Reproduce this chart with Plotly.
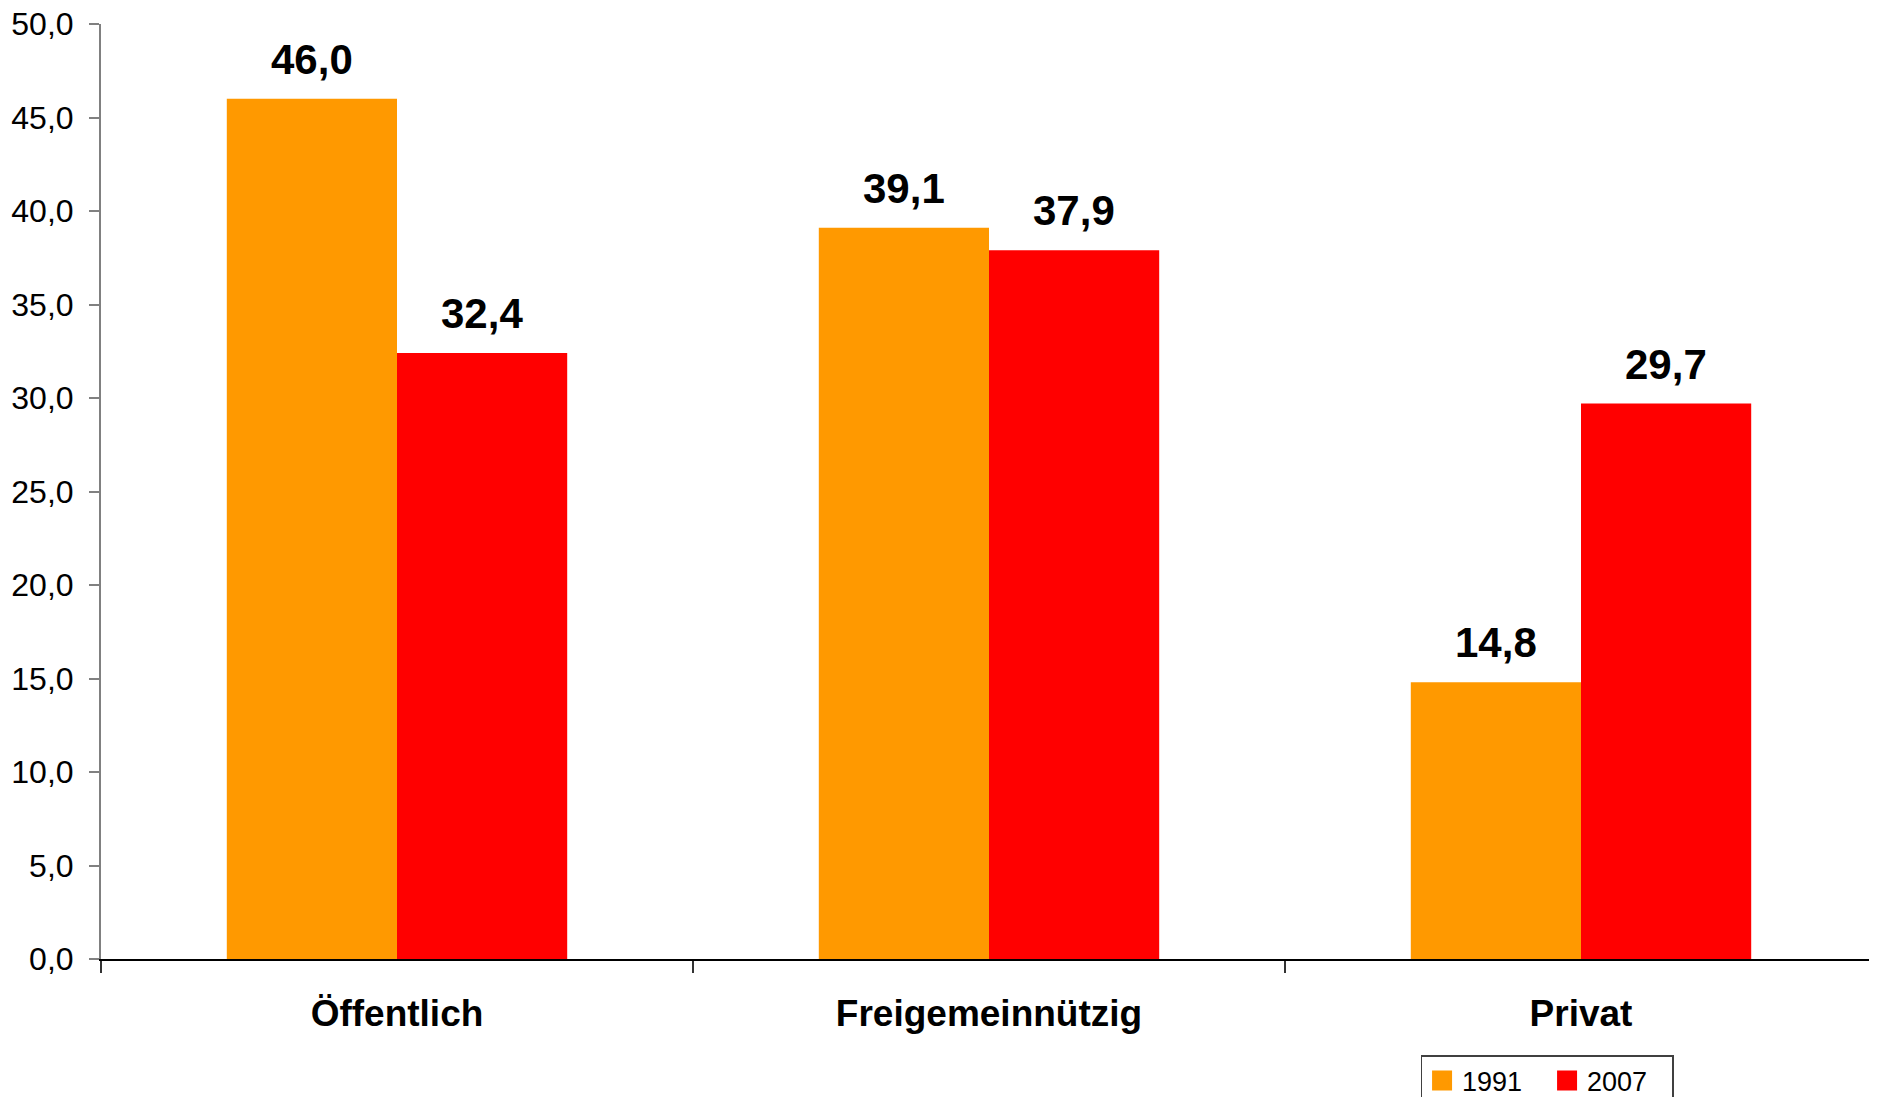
import plotly.graph_objects as go

categories = ["Öffentlich", "Freigemeinnützig", "Privat"]
years = ["1991", "2007"]
values_1991 = [46.0, 39.1, 14.8]
values_2007 = [32.4, 37.9, 29.7]
colors = ["#FF9900", "#FF0000"]

font_family = "Arial, Liberation Sans, sans-serif"

fig = go.Figure()
for name, vals, col in zip(years, [values_1991, values_2007], colors):
    fig.add_trace(go.Bar(
        name=name, x=categories, y=vals, showlegend=False,
        marker=dict(color=col, line=dict(width=0)),
    ))
# legend entries with bigger square swatches
for name, col in zip(years, colors):
    fig.add_trace(go.Scatter(
        name=name, x=[None], y=[None], mode="markers",
        marker=dict(symbol="square", size=16, color=col, line=dict(color=col, width=4)),
    ))

# value labels above the bars
bar_w = (1 - 0.425) / 2
for k, vals in enumerate([values_1991, values_2007]):
    off = (k - 0.5) * bar_w
    for i, v in enumerate(vals):
        fig.add_annotation(
            x=i + off, y=v, xref="x", yref="y",
            text=f"{v:.1f}".replace(".", ","),
            showarrow=False, yanchor="bottom", yshift=14,
            font=dict(family=font_family, size=42, color="black", weight="bold"),
        )

# page body adds an 8px margin, so the figure is sized to fit the window
fig.update_layout(
    width=1869, height=1089,
    margin=dict(l=93, r=0, t=16, b=138, autoexpand=False),
    paper_bgcolor="white", plot_bgcolor="white",
    barmode="group", bargap=0.425, bargroupgap=0,
    separators=",.",
    font=dict(family=font_family, color="black"),
    showlegend=True,
    legend=dict(
        orientation="h", x=0.743, y=-0.1027, xanchor="left", yanchor="top",
        bordercolor="#404040", borderwidth=1.5, bgcolor="white",
        font=dict(size=27, family=font_family),
        itemwidth=30, entrywidth=80, entrywidthmode="pixels",
    ),
)

fig.update_xaxes(
    showline=True, linecolor="black", linewidth=2, automargin=False,
    ticks="outside", tickson="boundaries", ticklen=12, tickwidth=1.5, tickcolor="#333333",
    tickfont=dict(size=37, family=font_family, weight="bold"),
    ticklabelstandoff=21,
    showgrid=False,
)
fig.update_yaxes(
    range=[0, 50], dtick=5, tickformat=".1f", automargin=False,
    showline=True, linecolor="#808080", linewidth=2,
    ticks="outside", ticklen=10, tickwidth=2, tickcolor="#808080",
    tickfont=dict(size=32, family=font_family),
    ticklabelstandoff=9, ticklabeloverflow="allow",
    showgrid=False, zeroline=False,
)

fig.write_html("out.html")
